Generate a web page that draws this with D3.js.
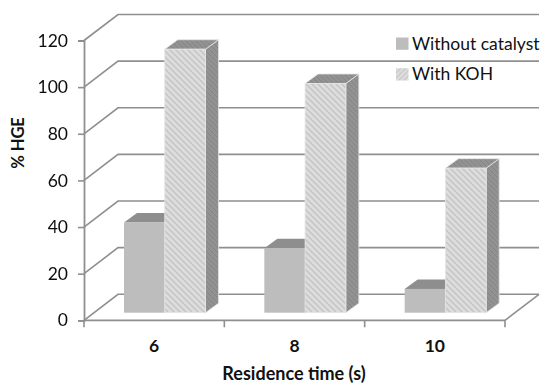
<!DOCTYPE html>
<html><head><meta charset="utf-8">
<script src="https://cdnjs.cloudflare.com/ajax/libs/d3/7.8.5/d3.min.js"></script>
<style>html,body{margin:0;padding:0;background:#fff}svg{display:block}text{font-family:Lato,"Open Sans",sans-serif;fill:#111}</style>
</head><body><div id="c"></div>
<script>
const categories=["6","8","10"];
const seriesNames=["Without catalyst","With KOH"];
const withoutCatalyst=[38.7,27.6,10.2];
const withKOH=[113,98.3,62];
const yTicks=[0,20,40,60,80,100,120];
const W=550,H=391;
const svg=d3.select("#c").append("svg").attr("width",W).attr("height",H);
const defs=svg.append("defs");
defs.append("filter").attr("id","soft").append("feGaussianBlur").attr("stdDeviation",0.5);
const p=defs.append("pattern").attr("id","hatch").attr("width",6).attr("height",6).attr("patternUnits","userSpaceOnUse");
p.append("rect").attr("width",6).attr("height",6).attr("fill","#dddddd");
p.append("path").attr("d","M-1,-1L7,7M-1,5L1,7M5,-1L7,1").attr("stroke","#c4c4c4").attr("stroke-width",1.4);
const ps=defs.append("pattern").attr("id","hatchSide").attr("width",5).attr("height",5).attr("patternUnits","userSpaceOnUse");
ps.append("rect").attr("width",5).attr("height",5).attr("fill","#929292");
ps.append("path").attr("d","M-1,-1L6,6M-1,4L1,6M4,-1L6,1").attr("stroke","#858585").attr("stroke-width",1);
const lp=defs.append("pattern").attr("id","hatchLeg").attr("width",5).attr("height",5).attr("patternUnits","userSpaceOnUse");
lp.append("rect").attr("width",5).attr("height",5).attr("fill","#dedede");
lp.append("path").attr("d","M-1,6L6,-1M-1,1L1,-1M4,6L6,4").attr("stroke","#c8c8c8").attr("stroke-width",1.3);

const x=d3.scaleBand().domain(categories).range([84,505]);
const inner=d3.scaleBand().domain(seriesNames).range([40,121.5]);
const y=d3.scaleLinear().domain([0,120]).range([320.3,40.5]);
const wallDx=34,wallDy=26,barDx=13,barDy=9.5,barLift=7.6;
const gridColor="#8f8f8f";
const g=svg.append("g").attr("filter","url(#soft)");

// walls
g.append("g").selectAll("path").data(yTicks).join("path")
 .attr("fill","none").attr("stroke",gridColor).attr("stroke-width",1.6)
 .attr("d",d=>`M${x.range()[0]},${y(d)}l${wallDx},${-wallDy}H${x.range()[1]+wallDx}`);
g.append("path").attr("fill","none").attr("stroke",gridColor).attr("stroke-width",1.6)
 .attr("d",`M${x.range()[1]},${y(0)}l${wallDx},${-wallDy}`);

// axes
const yAxis=d3.axisLeft(y).tickValues(yTicks).tickSize(6).tickPadding(10);
const ya=g.append("g").attr("transform","translate(84,0)").call(yAxis);
const xTickPos=[...categories.map(c=>x(c)),x.range()[1]];
g.append("path").attr("fill","none").attr("stroke",gridColor).attr("stroke-width",1.8)
 .attr("d",`M${x.range()[0]},${y(0)}H${x.range()[1]}`);
g.append("g").selectAll("line").data(xTickPos).join("line")
 .attr("x1",d=>d).attr("x2",d=>d).attr("y1",y(0)).attr("y2",y(0)+7)
 .attr("stroke",gridColor).attr("stroke-width",1.6);
ya.select(".domain").attr("stroke",gridColor).attr("stroke-width",1.8);
ya.selectAll(".tick line").attr("stroke",gridColor).attr("stroke-width",1.6);
ya.selectAll("text").attr("font-size",17.5).attr("fill","#111").style("font-family","Lato,sans-serif");

// bars
const seriesData=[withoutCatalyst,withKOH];
const barStyles=[{front:"#bdbdbd",side:"#8e8e8e",top:"#8e8e8e",edge:"none"},{front:"url(#hatch)",side:"url(#hatchSide)",top:"url(#hatchSide)",edge:"#e6e6e6"}];
const hgt=v=>y(0)-y(v);
const base=y(0)-barLift;
categories.forEach((c,ci)=>{
  seriesNames.forEach((s,si)=>{
    const v=seriesData[si][ci],x0=x(c)+inner(s),w=inner.bandwidth(),t=base-hgt(v),st=barStyles[si];
    const b=g.append("g").attr("stroke",st.edge).attr("stroke-width",0.8);
    b.append("path").attr("fill",st.side).attr("d",`M${x0+w},${t}l${barDx},${-barDy}V${base-barDy}L${x0+w},${base}Z`);
    b.append("path").attr("fill",st.top).attr("d",`M${x0},${t}l${barDx},${-barDy}h${w}l${-barDx},${barDy}Z`);
    b.append("rect").attr("x",x0).attr("y",t).attr("width",w).attr("height",base-t).attr("fill",st.front);
  });
});

// category labels
svg.append("g").selectAll("text").data(categories).join("text")
 .attr("x",c=>x(c)+x.bandwidth()/2).attr("y",351.5).attr("text-anchor","middle")
 .attr("font-size",17.5).attr("font-weight",700).text(c=>c);
svg.append("text").attr("x",294).attr("y",380).attr("text-anchor","middle")
 .attr("font-size",18).attr("font-weight",700).text("Residence time (s)");
svg.append("text").attr("transform","translate(24,143) rotate(-90)").attr("text-anchor","middle")
 .attr("font-size",16.5).attr("font-weight",700).text("% HGE");

// legend
const leg=svg.append("g").selectAll("g").data(seriesNames).join("g")
 .attr("transform",(d,i)=>`translate(396,${37.5+i*30.7})`);
leg.append("rect").attr("width",12.5).attr("height",12.3).attr("fill",(d,i)=>i?"url(#hatchLeg)":"#bdbdbd");
leg.append("text").attr("x",16).attr("y",12).attr("font-size",17.5).text(d=>d);
</script></body></html>
